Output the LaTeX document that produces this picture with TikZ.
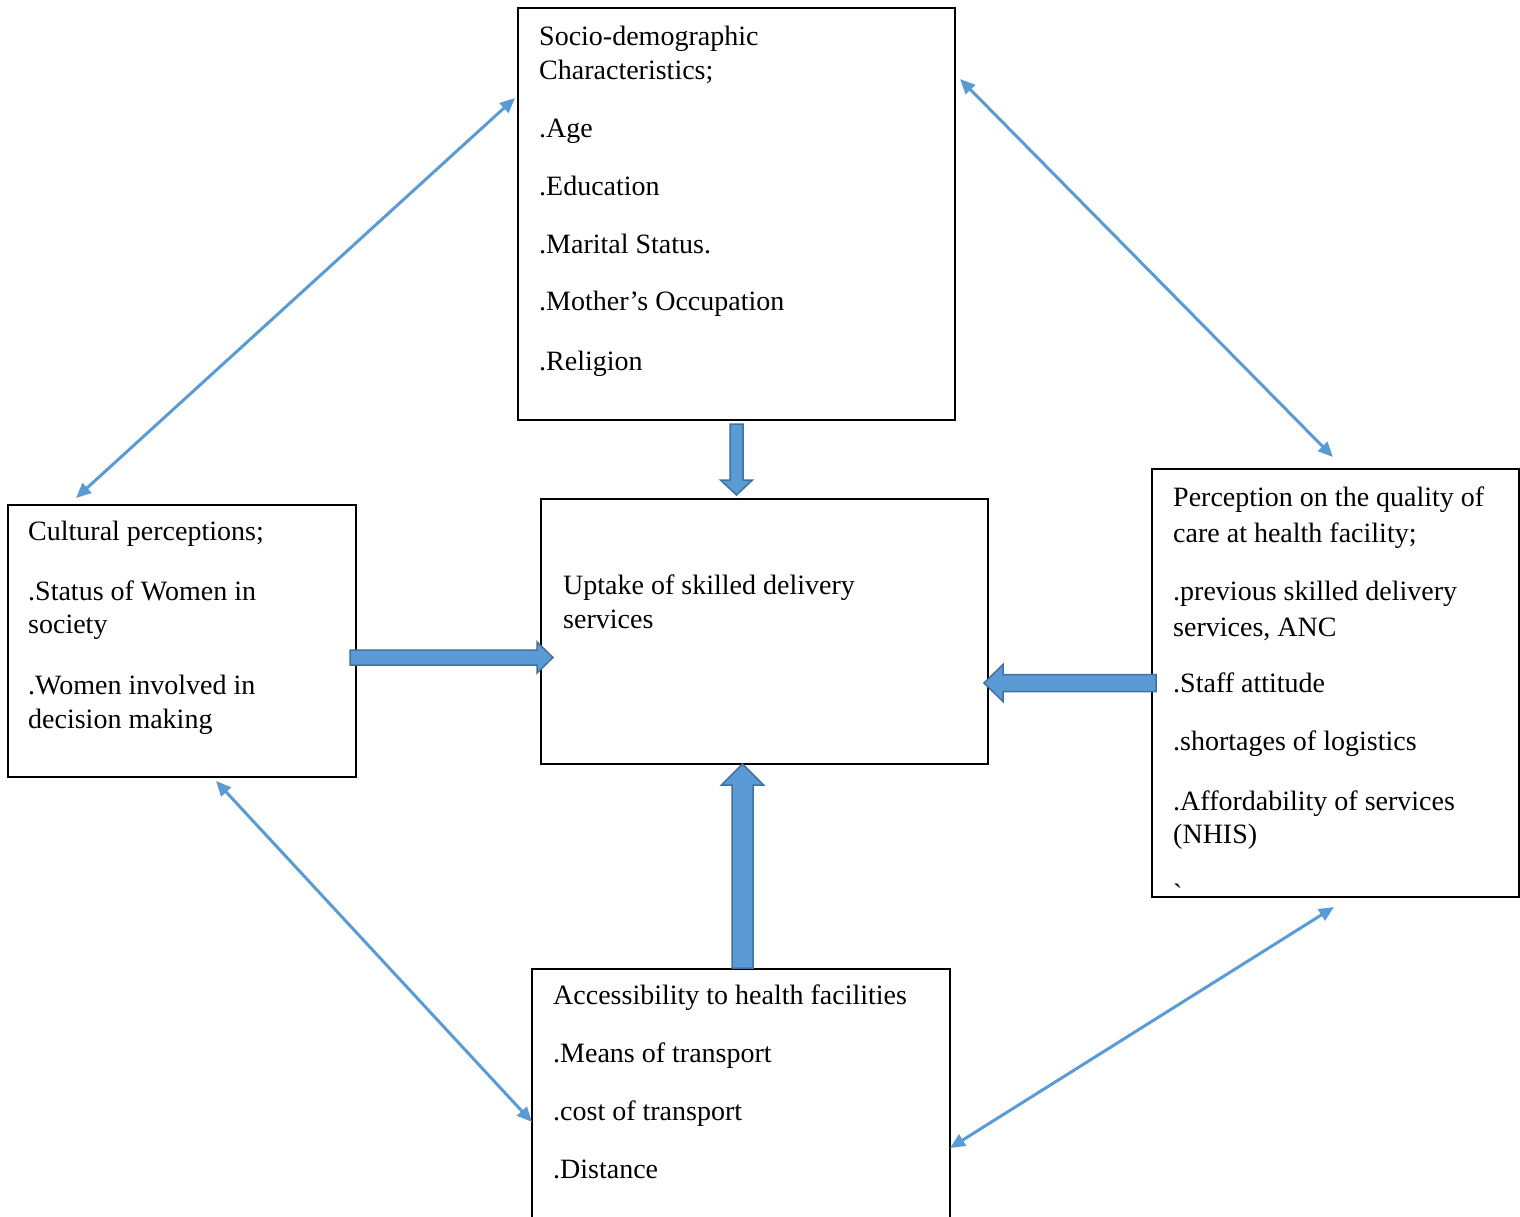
\documentclass[tikz,border=0pt]{standalone}
\usepackage{fontspec}
\setmainfont{Liberation Serif}
\usetikzlibrary{arrows.meta,calc}
\definecolor{lineblue}{HTML}{5B9BD5}
\definecolor{edgeblue}{HTML}{41719C}
\newcommand\blkarrow[5]{%
  \coordinate (hb) at ($(#2)!#5!(#1)$);
  \draw[blk] ($(#1)!#3!90:(#2)$) -- ($(hb)!#3!-90:(#1)$) -- ($(hb)!#4!-90:(#1)$) -- (#2)
    -- ($(hb)!#4!90:(#1)$) -- ($(hb)!#3!90:(#1)$) -- ($(#1)!#3!-90:(#2)$) -- cycle;}
\begin{document}
\begin{tikzpicture}[x=1pt,y=-1pt,
  box/.style={draw=black,line width=2pt,anchor=north west,inner sep=0pt,outer sep=0pt},
  txt/.style={anchor=base west,inner sep=0pt,font=\fontsize{28}{34}\selectfont},
  link/.style={draw=lineblue,line width=3pt,{Triangle[length=15pt,width=13pt]}-{Triangle[length=15pt,width=13pt]}},
  blk/.style={fill=lineblue,draw=edgeblue,line width=1.5pt,line join=miter}]
\useasboundingbox (0,0) rectangle (1520,1216);

% boxes
\node[box,minimum width=437pt,minimum height=412pt] (top) at (518,8) {};
\node[box,minimum width=447pt,minimum height=265pt] (center) at (541,499) {};
\node[box,minimum width=348pt,minimum height=272pt] (left) at (8,505) {};
\node[box,minimum width=367pt,minimum height=428pt] (right) at (1152,469) {};
\node[box,minimum width=418pt,minimum height=300pt] (bottom) at (532,969) {};

% top box text
\node[txt] (t1) at (539,45) {Socio-demographic};
\node[txt] (t2) at (539,79) {Characteristics;};
\node[txt] (t3) at (539,137) {.Age};
\node[txt] (t4) at (539,195) {.Education};
\node[txt] (t5) at (539,253) {.Marital Status.};
\node[txt] (t6) at (539,310) {.Mother’s Occupation};
\node[txt] (t7) at (539,370) {.Religion};

% left box text
\node[txt] (l1) at (28,540) {Cultural perceptions;};
\node[txt] (l2) at (28,600) {.Status of Women in};
\node[txt] (l3) at (28,633) {society};
\node[txt] (l4) at (28,694) {.Women involved in};
\node[txt] (l5) at (28,728) {decision making};

% center box text
\node[txt] (c1) at (563,594) {Uptake of skilled delivery};
\node[txt] (c2) at (563,628) {services};

% right box text
\node[txt] (r1) at (1173,506) {Perception on the quality of};
\node[txt] (r2) at (1173,542) {care at health facility;};
\node[txt] (r3) at (1173,600) {.previous skilled delivery};
\node[txt] (r4) at (1173,636) {services, ANC};
\node[txt] (r5) at (1173,692) {.Staff attitude};
\node[txt] (r6) at (1173,750) {.shortages of logistics};
\node[txt] (r7) at (1173,810) {.Affordability of services};
\node[txt] (r8) at (1173,843) {(NHIS)};
\node[txt] (r9) at (1173,903) {\textasciigrave};

% bottom box text
\node[txt] (b1) at (553,1004) {Accessibility to health facilities};
\node[txt] (b2) at (553,1062) {.Means of transport};
\node[txt] (b3) at (553,1120) {.cost of transport};
\node[txt] (b4) at (553,1178) {.Distance};

% thin double-headed links
\coordinate (tl1) at ($(top.north west)+(-3,90)$);
\coordinate (tl2) at ($(left.north west)+(68,-7)$);
\coordinate (tr1) at ($(top.north east)+(5,71)$);
\coordinate (tr2) at ($(right.north west)+(181,-12)$);
\coordinate (bl1) at ($(left.south west)+(208,4)$);
\coordinate (bl2) at ($(bottom.north west)+(0,153)$);
\coordinate (br1) at ($(right.south west)+(182,10)$);
\coordinate (br2) at ($(bottom.north east)+(0,179)$);
\draw[link] (tl1) -- (tl2);
\draw[link] (tr1) -- (tr2);
\draw[link] (bl1) -- (bl2);
\draw[link] (br1) -- (br2);

% block arrows
\coordinate (dS) at ($(top.south west)+(218.5,4)$);
\coordinate (dE) at (dS |- center.north);
\coordinate (dE2) at ($(dE)+(0,-4)$);
\blkarrow{dS}{dE2}{6.5pt}{16pt}{15pt}

\coordinate (lS) at ($(left.east)+(-6,16.5)$);
\coordinate (lE) at ($(lS -| center.west)+(12,0)$);
\blkarrow{lS}{lE}{7.5pt}{15.5pt}{16pt}

\coordinate (rS) at ($(right.west)+(4,0)$);
\coordinate (rS2) at (rS |- 0,683);
\coordinate (rE) at ($(rS2 -| center.east)+(-4,0)$);
\blkarrow{rS2}{rE}{8.5pt}{18.5pt}{19pt}

\coordinate (uS) at ($(bottom.north west)+(210.5,-1)$);
\coordinate (uE) at (uS |- center.south);
\blkarrow{uS}{uE}{10.5pt}{21pt}{21pt}
\end{tikzpicture}
\end{document}
